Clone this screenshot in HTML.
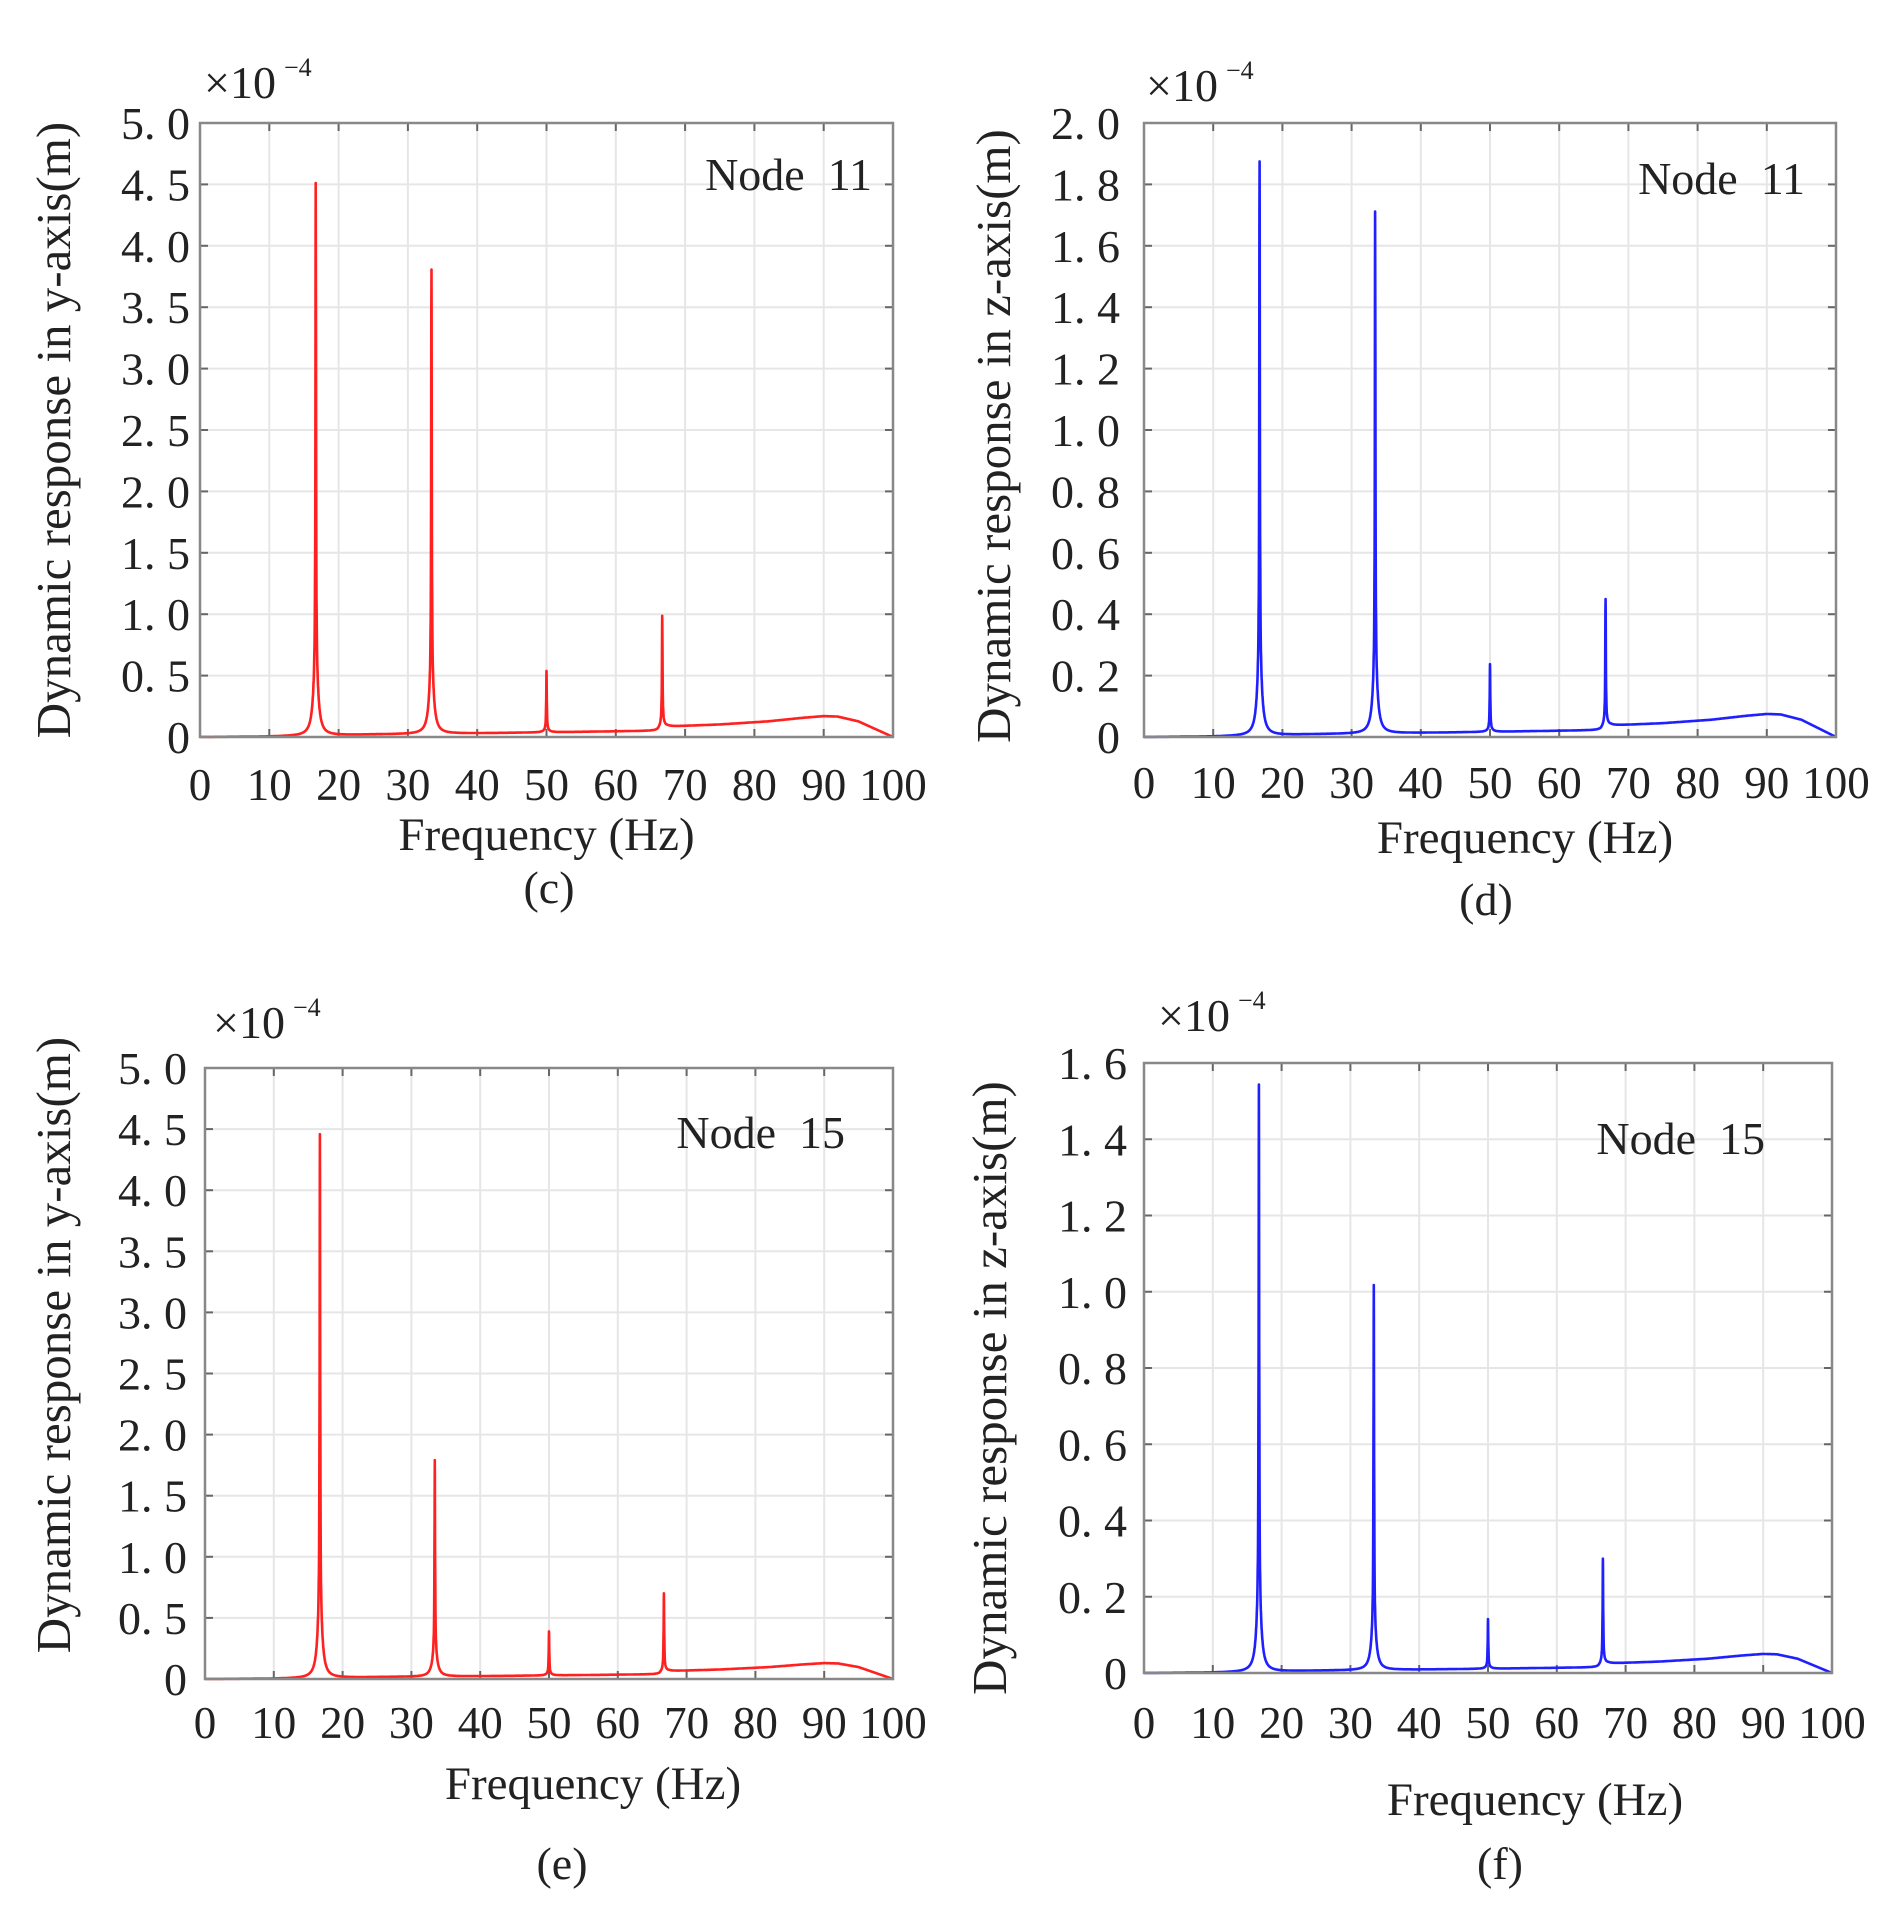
<!DOCTYPE html>
<html><head><meta charset="utf-8"><style>
html,body{margin:0;padding:0;background:#fff;}
svg{display:block;font-family:"Liberation Serif","Noto Serif CJK SC",serif;}
text{white-space:pre;}
</style></head><body>
<svg id="s" width="1898" height="1925" viewBox="0 0 1898 1925" xmlns="http://www.w3.org/2000/svg"></svg>
<script>
const S=document.getElementById('s');const NS='http://www.w3.org/2000/svg';
function el(t,a,txt){const e=document.createElementNS(NS,t);for(const k in a)e.setAttribute(k,a[k]);if(txt!==undefined)e.textContent=txt;S.appendChild(e);return e;}
const BP=[[0,0],[10,0.02],[25,0.12],[45,0.2],[66,0.3],[67.5,0.5],[75,0.6],[82,0.75],[87,0.92],[90,1],[92,0.98],[95,0.75],[100,0]];
function base(f){for(let i=1;i<BP.length;i++){if(f<=BP[i][0]){const a=BP[i-1],b=BP[i];return a[1]+(b[1]-a[1])*(f-a[0])/(b[0]-a[0]);}}return 0;}
function chart(o){
 const {L,R,T,B,ymax,yt,col,pk,hump,tr,lab}=o;
 const X=f=>L+(R-L)*f/100, Y=v=>B-(B-T)*v/ymax;
 for(let i=1;i<10;i++)el('line',{x1:X(i*10),x2:X(i*10),y1:T,y2:B,stroke:'#e6e6e6','stroke-width':2});
 yt.forEach(v=>{if(v>0&&v<ymax)el('line',{x1:L,x2:R,y1:Y(v),y2:Y(v),stroke:'#e6e6e6','stroke-width':2});});
 for(let i=1;i<10;i++){el('line',{x1:X(i*10),x2:X(i*10),y1:B,y2:B-8,stroke:'#666','stroke-width':2});el('line',{x1:X(i*10),x2:X(i*10),y1:T,y2:T+8,stroke:'#666','stroke-width':2});}
 yt.forEach(v=>{el('line',{x1:L,x2:L+8,y1:Y(v),y2:Y(v),stroke:'#666','stroke-width':2});el('line',{x1:R,x2:R-8,y1:Y(v),y2:Y(v),stroke:'#666','stroke-width':2});});
 let d='';const fr=[16.7,33.4,50,66.7];
 const sk=[0.12,0.12,0.05,0.06];
 for(let i=0;i<=6000;i++){const f=i/60;let v=hump*base(f);
  pk.forEach((A,j)=>{const df=f-fr[j];const s=A*sk[j];v+=(A-s)*0.0025/(df*df+0.0025);v+=s*0.16/(df*df+0.16);});
  v=Math.min(v,ymax);
  d+=(i?'L':'M')+X(f).toFixed(1)+' '+Y(v).toFixed(1);}
 el('path',{d:d,fill:'none',stroke:col,'stroke-width':2.6,'stroke-linejoin':'round'});
 el('rect',{x:L,y:T,width:R-L,height:B-T,fill:'none',stroke:'#888','stroke-width':2.5});
 yt.forEach(v=>{const s=v===0?'0':v.toFixed(1).replace('.','. ');el('text',{x:tr,y:Y(v)+16,'font-size':46,'text-anchor':'end',fill:'#222'},s);});
 for(let i=0;i<=10;i++)el('text',{x:X(i*10),y:lab.xb,'font-size':45,'text-anchor':'middle',fill:'#222'},String(i*10));
 el('text',{x:(L+R)/2+lab.fo,y:lab.fb,'font-size':47,'text-anchor':'middle',fill:'#222'},'Frequency (Hz)');
 el('text',{x:lab.px,y:lab.pb,'font-size':46,'text-anchor':'middle',fill:'#222'},lab.p);
 el('text',{x:lab.ex,y:lab.eb,'font-size':46,fill:'#222'},'×10');
 el('text',{x:lab.ex+80,y:lab.eb-22,'font-size':26,fill:'#222'},'−4');
 el('text',{x:lab.nx,y:lab.nb,'font-size':46,'text-anchor':'end',fill:'#222'},lab.n);
 el('text',{x:lab.yx,y:lab.yy,'font-size':49,'text-anchor':'middle',fill:'#222',transform:`rotate(-90 ${lab.yx} ${lab.yy})`},lab.yl);
}
const r=(a,b,s)=>{const o=[];for(let v=a;v<=b+1e-9;v+=s)o.push(Math.round(v*10)/10);return o;};
chart({L:200,R:893,T:123,B:737,ymax:5,yt:r(0,5,0.5),col:'#ff2020',pk:[4.5,3.78,0.5,0.92],hump:0.17,tr:190,
 lab:{xb:800,fo:0,fb:850,px:549,pb:903,p:'(c)',ex:204,eb:98,n:'Node  11',nx:872,nb:190,yx:70,yy:430,yl:'Dynamic response in y-axis(m)'}});
chart({L:1144,R:1836,T:123,B:737,ymax:2,yt:r(0,2,0.2),col:'#2020ff',pk:[1.87,1.7,0.22,0.42],hump:0.075,tr:1120,
 lab:{xb:798,fo:35,fb:853,px:1486,pb:915,p:'(d)',ex:1146,eb:101,n:'Node  11',nx:1805,nb:194,yx:1010,yy:436,yl:'Dynamic response in z-axis(m)'}});
chart({L:205,R:893,T:1068,B:1679,ymax:5,yt:r(0,5,0.5),col:'#ff2020',pk:[4.45,1.77,0.36,0.65],hump:0.13,tr:187,
 lab:{xb:1738,fo:44,fb:1799,px:562,pb:1879,p:'(e)',ex:213,eb:1038,n:'Node  15',nx:845,nb:1148,yx:70,yy:1345,yl:'Dynamic response in y-axis(m)'}});
chart({L:1144,R:1832,T:1063,B:1673,ymax:1.6,yt:r(0,1.6,0.2),col:'#2020ff',pk:[1.54,1.01,0.13,0.28],hump:0.05,tr:1127,
 lab:{xb:1738,fo:47,fb:1815,px:1500,pb:1879,p:'(f)',ex:1158,eb:1031,n:'Node  15',nx:1765,nb:1154,yx:1006,yy:1388,yl:'Dynamic response in z-axis(m)'}});
</script>
</body></html>
